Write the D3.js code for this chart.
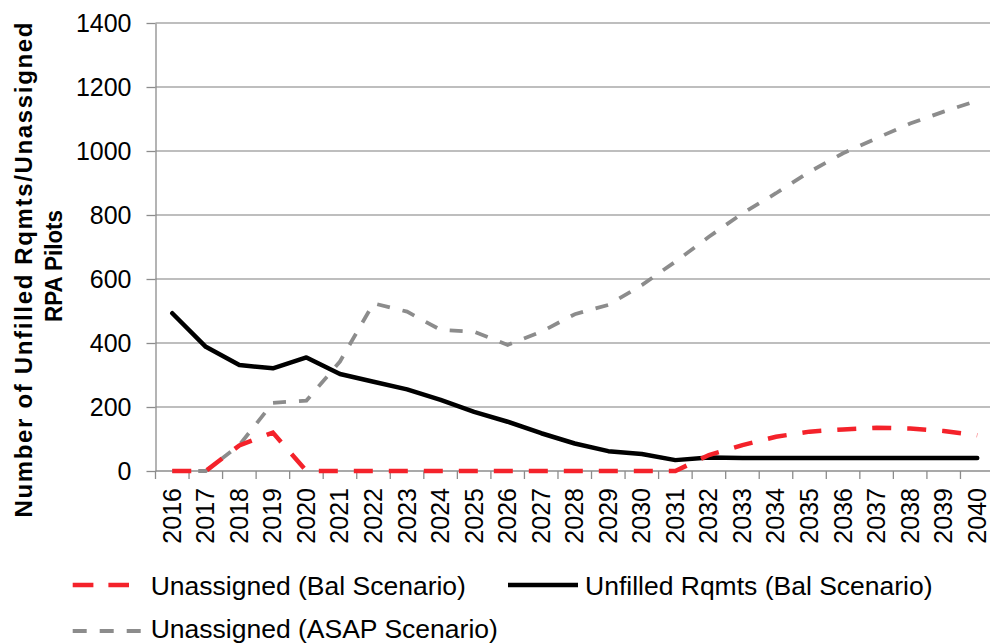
<!DOCTYPE html>
<html>
<head>
<meta charset="utf-8">
<script src="https://cdn.jsdelivr.net/npm/d3@7"></script>
<style>
  html, body { margin: 0; padding: 0; background: #fff; }
  svg { display: block; font-family: "Liberation Sans", Arial, sans-serif; }
</style>
</head>
<body>
<svg id="chart" width="990" height="644"></svg>
<script>
const years = ["2016","2017","2018","2019","2020","2021","2022","2023","2024","2025","2026","2027","2028","2029","2030","2031","2032","2033","2034","2035","2036","2037","2038","2039","2040"];
const unassignedBal = [0, 0, 80, 120, 0, 0, 0, 0, 0, 0, 0, 0, 0, 0, 0, 0, 50, 81, 107, 123, 130, 135, 133, 125, 112];
const unfilledBal = [493, 388, 331, 321, 355, 303, 279, 255, 222, 185, 154, 118, 86, 62, 53, 34, 42, 41, 41, 41, 41, 41, 41, 41, 41];
const unassignedAsap = [0, 0, 81, 213, 220, 342, 524, 498, 441, 435, 394, 435, 490, 519, 581, 654, 732, 805, 868, 935, 993, 1040, 1086, 1123, 1157];
const yTicks = [0, 200, 400, 600, 800, 1000, 1200, 1400];
const seriesNames = ["Unassigned (Bal Scenario)", "Unfilled Rqmts (Bal Scenario)", "Unassigned (ASAP Scenario)"];
const yTitle = ["Number of Unfilled  Rqmts/Unassigned", "RPA Pilots"];

(function () {
const svg = d3.select("#chart");
svg.append("rect").attr("width", 990).attr("height", 644).attr("fill", "#fff");

const pLeft = 155.5, pRight = 994, pTop = 23, pBottom = 471;
const x = d3.scaleBand().domain(years).range([pLeft, pRight]).padding(0);
const y = d3.scaleLinear().domain([0, 1400]).range([pBottom, pTop]);
const cx = d => x(d) + x.bandwidth() / 2;

// gridlines
svg.append("g").selectAll("line").data(yTicks.filter(t => t > 0)).join("line")
  .attr("x1", pLeft).attr("x2", 990)
  .attr("y1", d => y(d)).attr("y2", d => y(d))
  .attr("stroke", "#a8a8a8").attr("stroke-width", 1.3);

// y axis
const yAxis = svg.append("g").attr("transform", `translate(${pLeft},0)`)
  .call(d3.axisLeft(y).tickValues(yTicks).tickFormat(d3.format("d")).tickSize(9).tickPadding(15).tickSizeOuter(0));
yAxis.select(".domain").attr("stroke", "#8c8c8c").attr("stroke-width", 1.3);
yAxis.selectAll(".tick line").attr("stroke", "#8c8c8c").attr("stroke-width", 1.3);
yAxis.selectAll(".tick text").attr("font-size", 25).attr("fill", "#000")
  .attr("font-family", "Liberation Sans, Arial, sans-serif");

// x axis
const xAxis = svg.append("g").attr("transform", `translate(0,${pBottom})`);
xAxis.append("line").attr("x1", pLeft).attr("x2", 990).attr("y1", 0).attr("y2", 0)
  .attr("stroke", "#8c8c8c").attr("stroke-width", 1.3);
const bounds = years.map(d => x(d)).concat([x(years[years.length - 1]) + x.bandwidth()]);
xAxis.selectAll("line.tk").data(bounds).join("line").attr("class", "tk")
  .attr("x1", d => d).attr("x2", d => d).attr("y1", 0).attr("y2", 8)
  .attr("stroke", "#8c8c8c").attr("stroke-width", 1.3);
xAxis.selectAll("text").data(years).join("text")
  .attr("transform", d => `translate(${cx(d)},17) rotate(-90)`)
  .attr("dy", "0.34em")
  .attr("text-anchor", "end")
  .attr("font-size", 25)
  .attr("fill", "#000")
  .text(d => d);

// lines
const line = vals => d3.line().x((v, i) => cx(years[i])).y(v => y(v))(vals);
svg.append("path").attr("d", line(unassignedAsap)).attr("fill", "none")
  .attr("stroke", "#8c8c8c").attr("stroke-width", 3.8).attr("stroke-dasharray", "13,13");
svg.append("path").attr("d", line(unfilledBal)).attr("fill", "none")
  .attr("stroke", "#000").attr("stroke-width", 4.5).attr("stroke-linejoin", "round").attr("stroke-linecap", "round");
svg.append("path").attr("d", line(unassignedBal)).attr("fill", "none")
  .attr("stroke", "#f4222a").attr("stroke-width", 4.5).attr("stroke-dasharray", "19,16");

// y title
const t = svg.append("g").attr("transform", "translate(0,270) rotate(-90)");
t.append("text").attr("x", 0).attr("y", 32).attr("text-anchor", "middle")
  .attr("font-size", 24).attr("font-weight", "bold").attr("fill", "#000")
  .attr("textLength", 495).attr("lengthAdjust", "spacing")
  .text(yTitle[0]);
t.append("text").attr("x", 4).attr("y", 62).attr("text-anchor", "middle")
  .attr("font-size", 24).attr("font-weight", "bold").attr("fill", "#000")
  .attr("textLength", 112).attr("lengthAdjust", "spacingAndGlyphs")
  .text(yTitle[1]);

// legend
const lg = svg.append("g");
lg.append("line").attr("x1", 72.7).attr("x2", 129).attr("y1", 585).attr("y2", 585)
  .attr("stroke", "#f4222a").attr("stroke-width", 4.5).attr("stroke-dasharray", "20.7,15");
lg.append("text").attr("x", 150.7).attr("y", 595).attr("font-size", 26.5).attr("fill", "#000").text(seriesNames[0]);
lg.append("line").attr("x1", 508).attr("x2", 578).attr("y1", 585).attr("y2", 585)
  .attr("stroke", "#000").attr("stroke-width", 4.5);
lg.append("text").attr("x", 585).attr("y", 595).attr("font-size", 26.5).attr("fill", "#000").text(seriesNames[1]);
lg.append("line").attr("x1", 72.7).attr("x2", 140.7).attr("y1", 631).attr("y2", 631)
  .attr("stroke", "#8c8c8c").attr("stroke-width", 4).attr("stroke-dasharray", "14,13");
lg.append("text").attr("x", 150.7).attr("y", 638).attr("font-size", 26.5).attr("fill", "#000").text(seriesNames[2]);
})();
</script>
</body>
</html>
